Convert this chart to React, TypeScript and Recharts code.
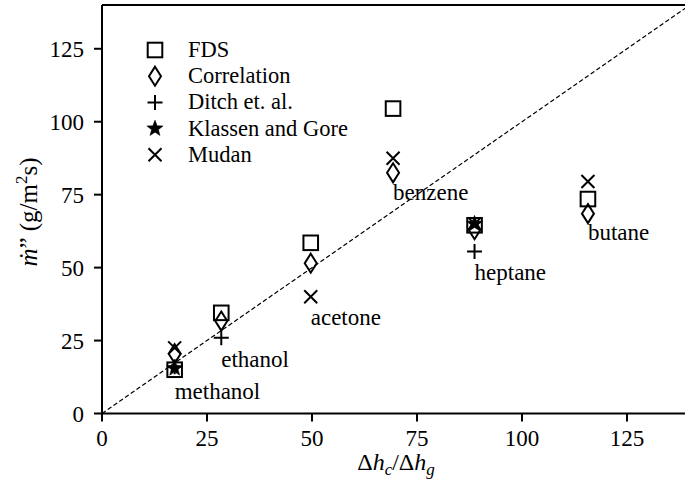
import React from 'react';
import {
  ScatterChart,
  Scatter,
  XAxis,
  YAxis,
  ReferenceLine,
  Label,
} from 'recharts';

const FONT = 'Liberation Serif, DejaVu Serif, serif';

// fuels and their x position (Δhc/Δhg)
const fuels = ['methanol', 'ethanol', 'acetone', 'benzene', 'heptane', 'butane'];
const fuelX = [17.3, 28.4, 49.7, 69.3, 88.7, 115.7];

// burning rate per method, null = no value
const fdsY = [15, 34.5, 58.5, 104.5, 64.5, 73.5];
const correlationY = [20.5, 31.7, 51.5, 82.5, 63, 68.5];
const ditchY = [16, 26, null, null, 55.5, null];
const klassenY = [15.5, null, null, null, 65, null];
const mudanY = [22.5, null, 40, 87.5, 65, 79.5];

// fuel name placement (y in data units)
const labelY = [4.8, 16, 30.4, 73, 45.8, 59.5];

const xTicks = [0, 25, 50, 75, 100, 125];
const yTicks = [0, 25, 50, 75, 100, 125];
const axisMax = 140;
const parity = [0, 140];

type Pt = { x: number; y: number; name: string };

const toPoints = (ys: (number | null)[]): Pt[] =>
  fuelX
    .map((x, i) => ({ x, y: ys[i] as number, name: fuels[i] }))
    .filter((p) => p.y != null);

const labelPoints = toPoints(labelY);

const SW = 2;

function Square({ cx, cy }: any) {
  return (
    <rect x={cx - 7.3} y={cy - 7.3} width={14.6} height={14.6} fill="none" stroke="#000" strokeWidth={SW} />
  );
}

function Diamond({ cx, cy }: any) {
  return (
    <path
      d={`M${cx},${cy - 9.5} L${cx + 6},${cy} L${cx},${cy + 9.5} L${cx - 6},${cy} Z`}
      fill="none"
      stroke="#000"
      strokeWidth={SW}
    />
  );
}

function Plus({ cx, cy }: any) {
  return (
    <path d={`M${cx - 7.5},${cy} H${cx + 7.5} M${cx},${cy - 7.5} V${cy + 7.5}`} stroke="#000" strokeWidth={SW} fill="none" />
  );
}

function Cross({ cx, cy }: any) {
  return (
    <path
      d={`M${cx - 6.5},${cy - 6.5} L${cx + 6.5},${cy + 6.5} M${cx - 6.5},${cy + 6.5} L${cx + 6.5},${cy - 6.5}`}
      stroke="#000"
      strokeWidth={SW}
      fill="none"
    />
  );
}

function Star({ cx, cy }: any) {
  const pts: string[] = [];
  for (let i = 0; i < 10; i++) {
    const r = i % 2 === 0 ? 8.5 : 3.6;
    const a = -Math.PI / 2 + (i * Math.PI) / 5;
    pts.push(`${cx + r * Math.cos(a)},${cy + r * Math.sin(a)}`);
  }
  return <polygon points={pts.join(' ')} fill="#000" stroke="#000" strokeWidth={0.5} />;
}

function FuelLabel(props: any) {
  const name = props.payload?.name ?? props.name;
  return (
    <text x={props.cx} y={props.cy} style={{ fontFamily: FONT }} fontSize={23} fill="#000" textAnchor="start">
      {name}
    </text>
  );
}

const legendItems = [
  { label: 'FDS', Mark: Square },
  { label: 'Correlation', Mark: Diamond },
  { label: 'Ditch et. al.', Mark: Plus },
  { label: 'Klassen and Gore', Mark: Star },
  { label: 'Mudan', Mark: Cross },
];

function LegendBox() {
  return (
    <svg width={240} height={140} style={{ position: 'absolute', left: 140, top: 35 }}>
      {legendItems.map(({ label, Mark }, i) => (
        <g key={label}>
          <Mark cx={15} cy={15 + i * 26.2} />
          <text x={48} y={22 + i * 26.2} style={{ fontFamily: FONT }} fontSize={22.5} fill="#000">
            {label}
          </text>
        </g>
      ))}
    </svg>
  );
}

const tickStyle = { fill: '#000', fontSize: 23, style: { fontFamily: FONT } };
const lineStyle = { stroke: '#000', strokeWidth: 2 };

export default function App() {
  return (
    <div
      style={{
        position: 'fixed',
        left: 0,
        top: 0,
        width: 685,
        height: 492,
        overflow: 'hidden',
        background: '#fff',
        fontFamily: FONT,
      }}
    >
      <ScatterChart width={700} height={492} margin={{ top: 5, right: 10, bottom: 0, left: 0 }}>
        <XAxis
          type="number"
          dataKey="x"
          domain={[0, axisMax]}
          ticks={xTicks}
          allowDataOverflow
          tickSize={8}
          tickMargin={8}
          tick={tickStyle}
          tickLine={lineStyle}
          axisLine={lineStyle}
          height={78.5}
        >
          <Label
            content={() => (
              <text x={396} y={470} textAnchor="middle" style={{ fontFamily: FONT }} fontSize={24} fill="#000">
                Δ<tspan fontStyle="italic">h</tspan>
                <tspan fontStyle="italic" fontSize={17} dy={5}>c</tspan>
                <tspan dy={-5}>/Δ</tspan>
                <tspan fontStyle="italic">h</tspan>
                <tspan fontStyle="italic" fontSize={17} dy={5}>g</tspan>
              </text>
            )}
          />
        </XAxis>
        <YAxis
          type="number"
          dataKey="y"
          domain={[0, axisMax]}
          ticks={yTicks}
          allowDataOverflow
          tickSize={8}
          tickMargin={10}
          tick={tickStyle}
          tickLine={lineStyle}
          axisLine={lineStyle}
          width={102}
        >
          <Label
            content={() => (
              <text
                x={37}
                y={212}
                transform="rotate(-90 37 212)"
                textAnchor="middle"
                style={{ fontFamily: FONT }}
                fontSize={25}
                fill="#000"
              >
                <tspan fontStyle="italic">ṁ</tspan>” (g/m
                <tspan fontSize={17} dy={-10}>2</tspan>
                <tspan dy={10}>s)</tspan>
              </text>
            )}
          />
        </YAxis>
        <ReferenceLine y={axisMax} stroke="#000" strokeWidth={2} />
        <ReferenceLine
          segment={[
            { x: parity[0], y: parity[0] },
            { x: parity[1], y: parity[1] },
          ]}
          stroke="#000"
          strokeWidth={1.2}
          strokeDasharray="4.5 2.5"
        />
        <Scatter name="FDS" data={toPoints(fdsY)} shape={Square} isAnimationActive={false} />
        <Scatter name="Correlation" data={toPoints(correlationY)} shape={Diamond} isAnimationActive={false} />
        <Scatter name="Ditch et. al." data={toPoints(ditchY)} shape={Plus} isAnimationActive={false} />
        <Scatter name="Klassen and Gore" data={toPoints(klassenY)} shape={Star} isAnimationActive={false} />
        <Scatter name="Mudan" data={toPoints(mudanY)} shape={Cross} isAnimationActive={false} />
        <Scatter name="labels" data={labelPoints} shape={FuelLabel} isAnimationActive={false} legendType="none" />
      </ScatterChart>
      <LegendBox />
    </div>
  );
}
